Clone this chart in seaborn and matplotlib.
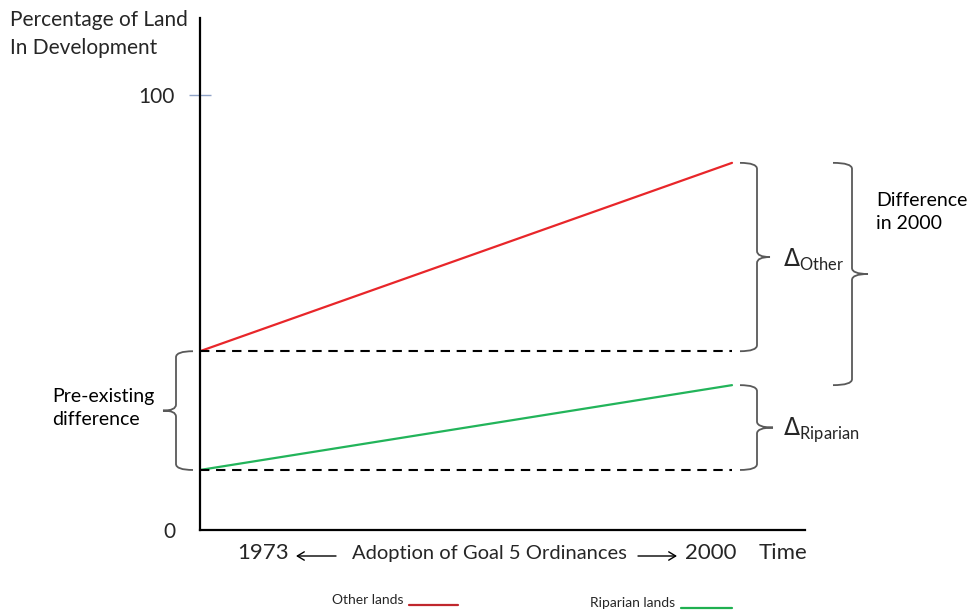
import numpy as np
import pandas as pd
import seaborn as sns
import matplotlib
matplotlib.use("Agg")
import matplotlib.pyplot as plt
from matplotlib.path import Path
from matplotlib.patches import PathPatch, FancyArrowPatch
from matplotlib.transforms import IdentityTransform

# ---- data ----
years = [1973, 2000]
other_lands = [41.1, 84.4]
riparian_lands = [13.8, 33.3]
series_names = ["Other lands", "Riparian lands"]
line_colors = ["#E8262A", "#22B45A"]
legend_colors = ["#C0272D", "#1FB050"]
ytick_values = [0, 100]
ytick_labels = ["0", "100"]

sns.set_style("white")
plt.rcParams["font.family"] = ["Lato", "DejaVu Sans"]

W, H = 969, 611
fig = plt.figure(figsize=(W / 100, H / 100), dpi=100)
ax = fig.add_axes([200 / W, (H - 530) / H, (805 - 200) / W, (530 - 18) / H])

df = pd.DataFrame({
    "year": years * 2,
    "value": other_lands + riparian_lands,
    "series": [series_names[0]] * 2 + [series_names[1]] * 2,
})
sns.lineplot(data=df, x="year", y="value", hue="series",
             palette=dict(zip(series_names, line_colors)), linewidth=1.6,
             legend=False, ax=ax)

# baselines (dashed)
for v in [other_lands[0], riparian_lands[0]]:
    ax.plot(years, [v, v], color="black", linestyle=(0, (4.5, 3.2)), linewidth=1.5)

ax.set_xlim(1973, 1973 + (805 - 200) / ((732 - 200) / 27))
ax.set_ylim(0, (530 - 18) / ((530 - 95) / 100))
for s in ["top", "right"]:
    ax.spines[s].set_visible(False)
for s in ["left", "bottom"]:
    ax.spines[s].set_color("black")
    ax.spines[s].set_linewidth(1.6)
ax.set_xticks([])
ax.set_yticks(ytick_values)
ax.set_yticklabels(ytick_labels, fontsize=15)
ax.tick_params(axis="y", direction="inout", length=16, width=1.0,
               color="#8FA3C7", pad=10, left=True)
ax.yaxis.get_major_ticks()[0].tick1line.set_visible(False)
ax.set_xlabel("")
ax.set_ylabel("")

fig.canvas.draw()


def ydisp(v):
    return ax.transData.transform((1973, v))[1]


def pix(x, y):
    return x, H - y


def brace(xv, y_top, y_bot, w=17, t=13, r=6, tip_right=True, color="#595959"):
    s = 1 if tip_right else -1
    xh = xv - s * w
    xt = xv + s * t
    ym = (y_top + y_bot) / 2
    verts = [(xh, y_top), (xv, y_top), (xv, y_top - r),
             (xv, ym + r), (xv, ym), (xt, ym),
             (xv, ym), (xv, ym - r),
             (xv, y_bot + r), (xv, y_bot), (xh, y_bot)]
    codes = [Path.MOVETO, Path.CURVE3, Path.CURVE3,
             Path.LINETO, Path.CURVE3, Path.CURVE3,
             Path.CURVE3, Path.CURVE3,
             Path.LINETO, Path.CURVE3, Path.CURVE3]
    fig.add_artist(PathPatch(Path(verts, codes), transform=IdentityTransform(),
                             facecolor="none", edgecolor=color, linewidth=1.3))


# braces
brace(757, ydisp(other_lands[1]), ydisp(other_lands[0]))
brace(757, ydisp(riparian_lands[1]), ydisp(riparian_lands[0]), t=16)
brace(852, ydisp(other_lands[1]), ydisp(riparian_lands[1]), w=19, t=16)
brace(176, ydisp(other_lands[0]), ydisp(riparian_lands[0]), w=17, t=13, tip_right=False)

T = IdentityTransform()
txt = dict(transform=T, fontsize=14, color="black")
fig.text(*pix(10, 34), "Percentage of Land\nIn Development", va="center", ha="left",
         linespacing=1.45, transform=T, fontsize=15)
fig.text(*pix(52, 408), "Pre-existing\ndifference", va="center", ha="left",
         linespacing=1.4, **txt)
fig.text(*pix(876, 212), "Difference\nin 2000", va="center", ha="left",
         linespacing=1.4, **txt)
fig.text(*pix(783, 260), r"$\Delta_{\mathregular{Other}}$", va="center", ha="left",
         transform=T, fontsize=17)
fig.text(*pix(783, 430), r"$\Delta_{\mathregular{Riparian}}$", va="center", ha="left",
         transform=T, fontsize=17)

# bottom axis annotations
fig.text(*pix(263, 553), "1973", ha="center", va="center", transform=T, fontsize=16)
fig.text(*pix(489, 554), "Adoption of Goal 5 Ordinances", ha="center", va="center",
         transform=T, fontsize=14.5)
fig.text(*pix(711, 553), "2000", ha="center", va="center", transform=T, fontsize=16)
fig.text(*pix(783, 553), "Time", ha="center", va="center", transform=T, fontsize=16)
for (x0, x1) in [(336, 296), (638, 677)]:
    fig.add_artist(FancyArrowPatch(pix(x0, 556), pix(x1, 556), transform=T,
                                   arrowstyle="->,head_length=5,head_width=3",
                                   color="black", linewidth=1.0,
                                   shrinkA=0, shrinkB=0))

# legend
fig.text(*pix(404, 600), series_names[0], ha="right", va="center", transform=T, fontsize=10)
fig.add_artist(plt.Line2D([409, 458], [H - 605, H - 605], transform=T,
                          color=legend_colors[0], linewidth=1.6))
fig.text(*pix(675, 603), series_names[1], ha="right", va="center", transform=T, fontsize=10)
fig.add_artist(plt.Line2D([681, 732], [H - 608, H - 608], transform=T,
                          color=legend_colors[1], linewidth=1.6))

fig.savefig("out.png", dpi=100)
